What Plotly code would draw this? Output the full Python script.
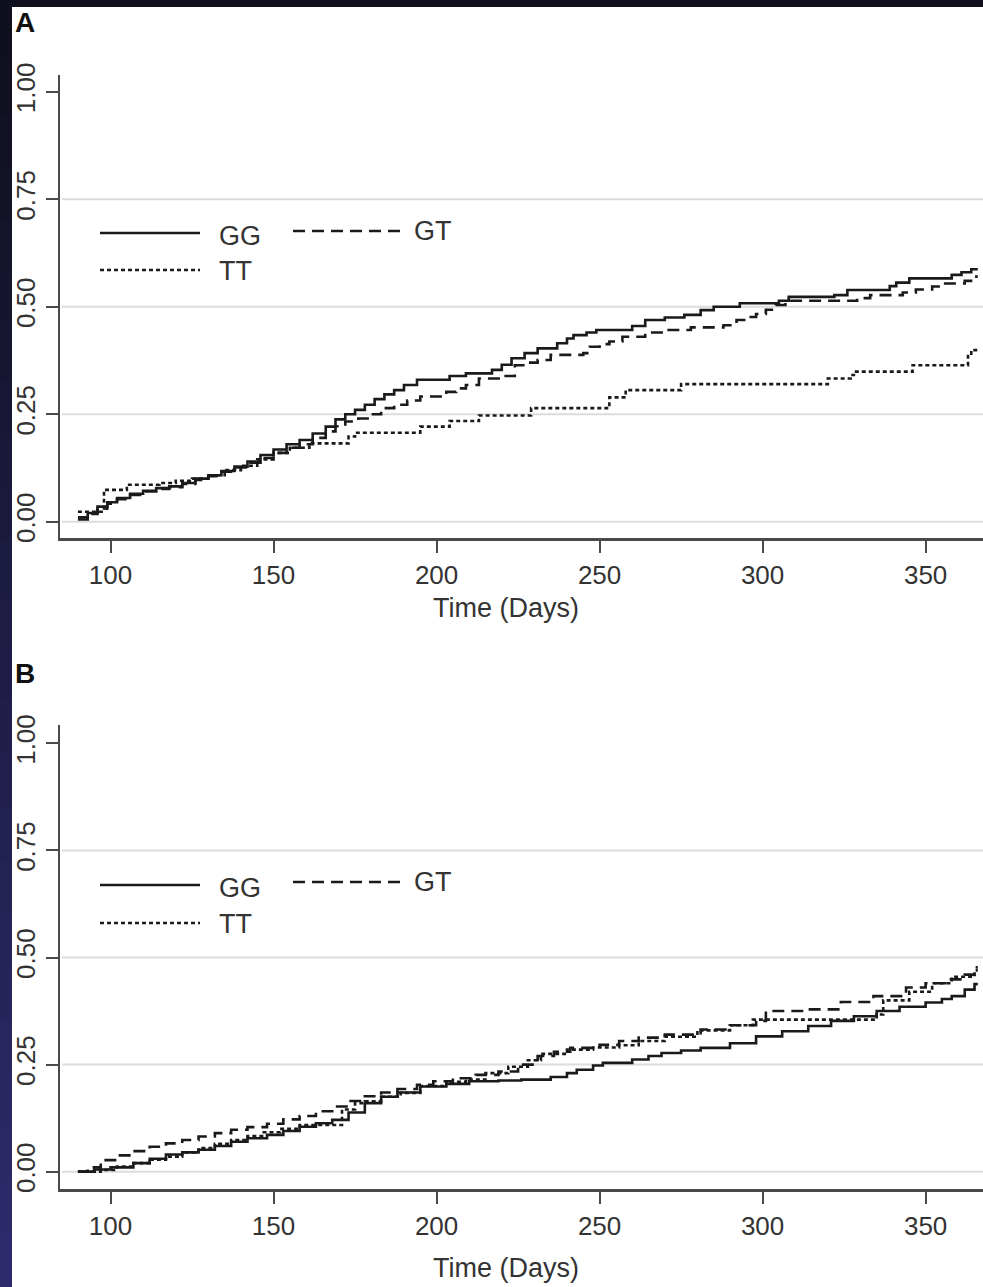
import plotly.graph_objects as go

# ---------------- data ----------------
# Panel A
a_gg_day = [90, 93, 96, 99, 102, 106, 110, 114, 118, 122, 126, 130, 134, 138, 142, 146, 150, 154, 158, 162,
            166, 169, 172, 175, 178, 181, 184, 187, 190, 194, 204, 209, 217, 220, 223, 227, 231, 237, 240, 242,
            246, 249, 260, 264, 270, 276, 281, 285, 293, 305, 308, 322, 326, 339, 341, 345, 358, 361, 364, 366]
a_gg_val = [0.010, 0.020, 0.035, 0.045, 0.055, 0.065, 0.072, 0.078, 0.082, 0.090, 0.100, 0.108, 0.118, 0.128,
            0.140, 0.155, 0.168, 0.180, 0.190, 0.205, 0.221, 0.238, 0.250, 0.260, 0.272, 0.285, 0.296, 0.306,
            0.318, 0.330, 0.339, 0.345, 0.353, 0.365, 0.380, 0.392, 0.403, 0.415, 0.426, 0.434, 0.440, 0.446,
            0.455, 0.469, 0.475, 0.481, 0.492, 0.500, 0.508, 0.514, 0.523, 0.527, 0.539, 0.548, 0.556, 0.566,
            0.574, 0.580, 0.587, 0.587]

a_gt_day = [90, 93, 96, 99, 102, 106, 110, 114, 118, 122, 126, 130, 134, 138, 142, 146, 150, 154, 158, 162,
            166, 169, 172, 176, 180, 183, 187, 191, 195, 203, 206, 209, 213, 220, 224, 228, 231, 235, 245, 247,
            250, 253, 257, 264, 270, 278, 288, 292, 295, 298, 301, 304, 307, 329, 333, 343, 347, 352, 356, 362,
            365, 366]
a_gt_val = [0.005, 0.018, 0.030, 0.042, 0.052, 0.062, 0.070, 0.076, 0.080, 0.088, 0.097, 0.106, 0.116, 0.126,
            0.137, 0.148, 0.160, 0.172, 0.180, 0.195, 0.210, 0.222, 0.233, 0.240, 0.250, 0.264, 0.272, 0.282,
            0.291, 0.302, 0.310, 0.318, 0.333, 0.339, 0.364, 0.370, 0.376, 0.388, 0.392, 0.407, 0.413, 0.419,
            0.430, 0.440, 0.446, 0.452, 0.457, 0.469, 0.476, 0.483, 0.493, 0.504, 0.514, 0.520, 0.527, 0.533,
            0.540, 0.547, 0.554, 0.560, 0.570, 0.570]

a_tt_day = [90, 98, 105, 115, 120, 125, 130, 135, 140, 145, 150, 155, 161, 173, 175, 195, 204, 213, 229, 253,
            258, 275, 320, 327, 328, 346, 363, 364, 366]
a_tt_val = [0.023, 0.074, 0.086, 0.090, 0.095, 0.100, 0.108, 0.120, 0.130, 0.145, 0.160, 0.172, 0.182, 0.198,
            0.207, 0.221, 0.234, 0.247, 0.264, 0.289, 0.306, 0.320, 0.333, 0.341, 0.349, 0.364, 0.385, 0.399,
            0.399]

# Panel B
b_gg_day = [90, 95, 100, 107, 112, 117, 122, 127, 132, 137, 142, 148, 153, 158, 163, 168, 173, 178, 183, 188,
            195, 203, 210, 219, 226, 235, 240, 243, 248, 251, 260, 265, 269, 275, 281, 290, 298, 306, 314, 321,
            328, 335, 342, 350, 355, 358, 362, 365, 366]
b_gg_val = [0.000, 0.005, 0.010, 0.020, 0.030, 0.040, 0.045, 0.051, 0.060, 0.070, 0.078, 0.086, 0.095, 0.105,
            0.113, 0.121, 0.138, 0.160, 0.175, 0.185, 0.199, 0.205, 0.211, 0.213, 0.215, 0.221, 0.230, 0.238,
            0.248, 0.254, 0.262, 0.270, 0.277, 0.283, 0.289, 0.300, 0.316, 0.328, 0.340, 0.352, 0.363, 0.375,
            0.385, 0.395, 0.403, 0.410, 0.425, 0.438, 0.438]

b_gt_day = [90, 93, 97, 102, 107, 112, 117, 122, 127, 132, 137, 142, 148, 153, 158, 163, 168, 173, 178, 183,
            188, 194, 199, 205, 212, 219, 225, 231, 236, 241, 250, 256, 262, 270, 281, 290, 298, 301, 314, 324,
            334, 344, 350, 357, 362, 365, 366]
b_gt_val = [0.000, 0.010, 0.027, 0.038, 0.048, 0.058, 0.066, 0.074, 0.082, 0.090, 0.098, 0.104, 0.112, 0.122,
            0.130, 0.141, 0.152, 0.165, 0.176, 0.185, 0.193, 0.203, 0.211, 0.218, 0.226, 0.234, 0.250, 0.270,
            0.280, 0.289, 0.296, 0.305, 0.313, 0.320, 0.332, 0.342, 0.352, 0.375, 0.379, 0.396, 0.410, 0.430,
            0.440, 0.449, 0.460, 0.477, 0.477]

b_tt_day = [90, 97, 102, 107, 112, 117, 122, 127, 132, 137, 142, 147, 152, 158, 171, 175, 178, 183, 189, 195,
            203, 209, 215, 222, 228, 232, 240, 248, 256, 262, 270, 280, 290, 297, 335, 337, 345, 352, 358, 365,
            366]
b_tt_val = [0.000, 0.004, 0.012, 0.020, 0.028, 0.035, 0.045, 0.055, 0.065, 0.074, 0.083, 0.092, 0.100, 0.109,
            0.145, 0.160, 0.164, 0.175, 0.184, 0.200, 0.210, 0.215, 0.230, 0.245, 0.260, 0.275, 0.285, 0.290,
            0.295, 0.305, 0.315, 0.330, 0.342, 0.355, 0.367, 0.400, 0.420, 0.440, 0.455, 0.470, 0.470]

series_names = ["GG", "GT", "TT"]
x_ticks = [100, 150, 200, 250, 300, 350]
y_ticks = [0, 0.25, 0.5, 0.75, 1.0]
y_ticktext = ["0.00", "0.25", "0.50", "0.75", "1.00"]
grid_vals = [0, 0.25, 0.5, 0.75]
x_title = "Time (Days)"
panel_labels = ["A", "B"]

# ---------------- layout helpers ----------------
W, H = 983, 1287
def px(xp):
    return xp / W
def py(yp):
    return 1 - yp / H

LINE = "#1a1a1a"
LW = 2.6
dash_styles = {"GG": "solid", "GT": "12px,7px", "TT": "4px,3px"}
FONT = "Liberation Sans, Arial, sans-serif"
TXT = "#333333"

fig = go.Figure()

panels = [
    ("x", "y", [(a_gg_day, a_gg_val), (a_gt_day, a_gt_val), (a_tt_day, a_tt_val)]),
    ("x2", "y2", [(b_gg_day, b_gg_val), (b_gt_day, b_gt_val), (b_tt_day, b_tt_val)]),
]
for xa, ya, data in panels:
    for name, (d, v) in zip(series_names, data):
        fig.add_trace(go.Scatter(x=d, y=v, mode="lines", name=name, xaxis=xa, yaxis=ya,
                                 line=dict(color=LINE, width=LW, dash=dash_styles[name], shape="hv"),
                                 showlegend=False, hoverinfo="skip"))

x_dom = [px(60), 1.0]
dom_a = [py(538), py(75)]
dom_b = [py(1189), py(725)]

axis_common_x = dict(range=[84.5, 367.6], tickvals=x_ticks, showgrid=False, zeroline=False,
                     showline=True, linecolor="#4a4a4a", linewidth=2.5, ticks="outside", ticklen=12,
                     tickwidth=2, tickcolor="#4a4a4a", tickfont=dict(family=FONT, size=26, color=TXT),
                     automargin=False)
axis_common_y = dict(tickvals=y_ticks, ticktext=y_ticktext, tickangle=-90, showgrid=False, zeroline=False,
                     showline=True, linecolor="#4a4a4a", linewidth=2.5, ticks="outside", ticklen=12,
                     tickwidth=2, tickcolor="#4a4a4a", tickfont=dict(family=FONT, size=26, color=TXT),
                     automargin=False)

fig.update_layout(
    width=W, height=H, margin=dict(l=0, r=0, t=0, b=0, pad=0, autoexpand=False),
    paper_bgcolor="white", plot_bgcolor="rgba(0,0,0,0)",
    xaxis=dict(domain=x_dom, anchor="y", **axis_common_x),
    yaxis=dict(domain=dom_a, anchor="x", range=[-0.038, 1.039], **axis_common_y),
    xaxis2=dict(domain=x_dom, anchor="y2", **axis_common_x),
    yaxis2=dict(domain=dom_b, anchor="x2", range=[-0.0405, 1.043], **axis_common_y),
)

shapes = []
# navy frame (top strip + left strip with gradient)
shapes.append(dict(type="rect", xref="paper", yref="paper", x0=0, x1=1, y0=py(7), y1=1,
                   fillcolor="#0f0f1e", line=dict(width=0), layer="below"))
n_band = 24
c0 = (15, 15, 30)
c1 = (46, 42, 108)
for i in range(n_band):
    t = i / (n_band - 1)
    col = "rgb(%d,%d,%d)" % tuple(round(c0[k] + (c1[k] - c0[k]) * t) for k in range(3))
    y_top = 7 + (H - 7) * i / n_band
    y_bot = 7 + (H - 7) * (i + 1) / n_band
    shapes.append(dict(type="rect", xref="paper", yref="paper", x0=0, x1=px(12),
                       y0=py(y_bot) - 0.001, y1=py(y_top), fillcolor=col, line=dict(width=0), layer="below"))

# grid lines
for yref in ["y", "y2"]:
    for g in grid_vals:
        shapes.append(dict(type="line", xref="paper", yref=yref, x0=px(62), x1=1, y0=g, y1=g,
                           line=dict(color="#dcdcdc", width=2), layer="below"))

# legend keys (manual, to match the long line samples)
legend_rows = [
    (233, 231, 270),   # panel A: GG y, GT y, TT y
    (885, 882, 923),   # panel B
]
annotations = []
for (y_gg, y_gt, y_tt) in legend_rows:
    shapes.append(dict(type="line", xref="paper", yref="paper", x0=px(100), x1=px(200), y0=py(y_gg), y1=py(y_gg),
                       line=dict(color=LINE, width=LW, dash=dash_styles["GG"])))
    shapes.append(dict(type="line", xref="paper", yref="paper", x0=px(293), x1=px(400), y0=py(y_gt), y1=py(y_gt),
                       line=dict(color=LINE, width=LW, dash=dash_styles["GT"])))
    shapes.append(dict(type="line", xref="paper", yref="paper", x0=px(100), x1=px(200), y0=py(y_tt), y1=py(y_tt),
                       line=dict(color=LINE, width=LW, dash=dash_styles["TT"])))
    for name, xx, yy in [("GG", 217, y_gg + 3), ("GT", 412, y_gt), ("TT", 217, y_tt + 1)]:
        annotations.append(dict(text=name, xref="paper", yref="paper", x=px(xx), y=py(yy),
                                xanchor="left", yanchor="middle", showarrow=False,
                                font=dict(family=FONT, size=27, color=TXT)))

# axis titles
for yy in [608, 1268]:
    annotations.append(dict(text=x_title, xref="paper", yref="paper", x=px(506), y=py(yy),
                            xanchor="center", yanchor="middle", showarrow=False,
                            font=dict(family=FONT, size=27, color=TXT)))
# panel labels
for lab, yy in zip(panel_labels, [22, 673]):
    annotations.append(dict(text="<b>%s</b>" % lab, xref="paper", yref="paper", x=px(13), y=py(yy),
                            xanchor="left", yanchor="middle", showarrow=False,
                            font=dict(family=FONT, size=28, color="#111111")))

fig.update_layout(shapes=shapes, annotations=annotations)
fig.write_html(
    "out.html",
    config={"displayModeBar": False, "staticPlot": True},
    post_script=(
        "document.body.style.margin='0px';document.body.style.padding='0px';"
        "document.documentElement.style.overflow='hidden';"
        "var gd=document.getElementById('{plot_id}');"
        "gd.style.position='absolute';gd.style.top='0px';gd.style.left='0px';"
    ),
)
